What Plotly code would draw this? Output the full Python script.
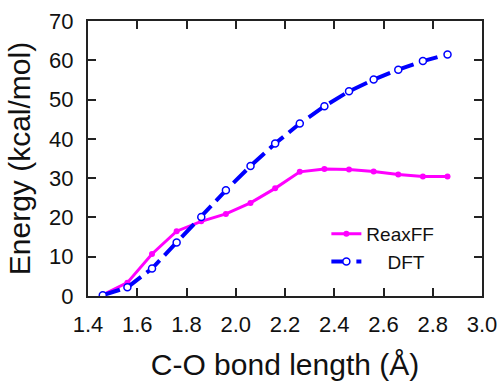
import plotly.graph_objects as go

bond_length = [1.46, 1.56, 1.66, 1.76, 1.86, 1.96, 2.06, 2.16, 2.26, 2.36, 2.46, 2.56, 2.66, 2.76, 2.86]
reaxff = [0.3, 3.4, 10.7, 16.5, 19.0, 20.9, 23.7, 27.4, 31.6, 32.3, 32.2, 31.7, 30.9, 30.4, 30.4]
dft = [0.2, 2.2, 7.0, 13.6, 20.1, 26.9, 33.1, 38.8, 43.9, 48.3, 52.1, 55.1, 57.6, 59.8, 61.5]

x_ticks = [1.4, 1.6, 1.8, 2.0, 2.2, 2.4, 2.6, 2.8, 3.0]
y_ticks = [0, 10, 20, 30, 40, 50, 60, 70]

FONT = "Liberation Sans, Arial, sans-serif"

fig = go.Figure()
fig.add_trace(go.Scatter(
    x=bond_length, y=reaxff, name="ReaxFF", mode="lines+markers",
    line=dict(color="#FF00FF", width=3),
    marker=dict(symbol="circle", size=6, color="#FF00FF"),
))
fig.add_trace(go.Scatter(
    x=bond_length, y=dft, name="\u00a0\u00a0\u00a0\u00a0DFT", mode="lines+markers",
    line=dict(color="#0000FF", width=4, dash="18px,7px"),
    marker=dict(symbol="circle", size=7, color="white",
                line=dict(color="#0000FF", width=1.5)),
))

axis_common = dict(
    showline=True, linecolor="#222222", linewidth=2, mirror="ticks",
    ticks="inside", ticklen=8, tickwidth=2, tickcolor="#222222",
    showgrid=False, zeroline=False, automargin=False,
    tickfont=dict(family=FONT, size=22, color="#111111"),
)

fig.update_layout(
    width=503, height=381,
    margin=dict(l=88, r=21, t=21, b=85),
    paper_bgcolor="white", plot_bgcolor="white",
    font=dict(family=FONT, color="#111111"),
    xaxis=dict(
        range=[1.4, 3.0], tickvals=x_ticks,
        ticktext=[f"{v:.1f}" for v in x_ticks],
        ticklabelstandoff=8,
        title=dict(text="C-O bond length (Å)", font=dict(family=FONT, size=30), standoff=18),
        **axis_common,
    ),
    yaxis=dict(
        range=[0, 70], tickvals=y_ticks,
        ticklabelstandoff=8,
        title=dict(text="Energy (kcal/mol)", font=dict(family=FONT, size=30), standoff=10),
        **axis_common,
    ),
    legend=dict(
        x=0.605, y=0.295, xanchor="left", yanchor="top",
        bgcolor="rgba(0,0,0,0)", font=dict(family=FONT, size=19),
        tracegroupgap=4,
    ),
    showlegend=True,
)

fig.write_html("out.html")
